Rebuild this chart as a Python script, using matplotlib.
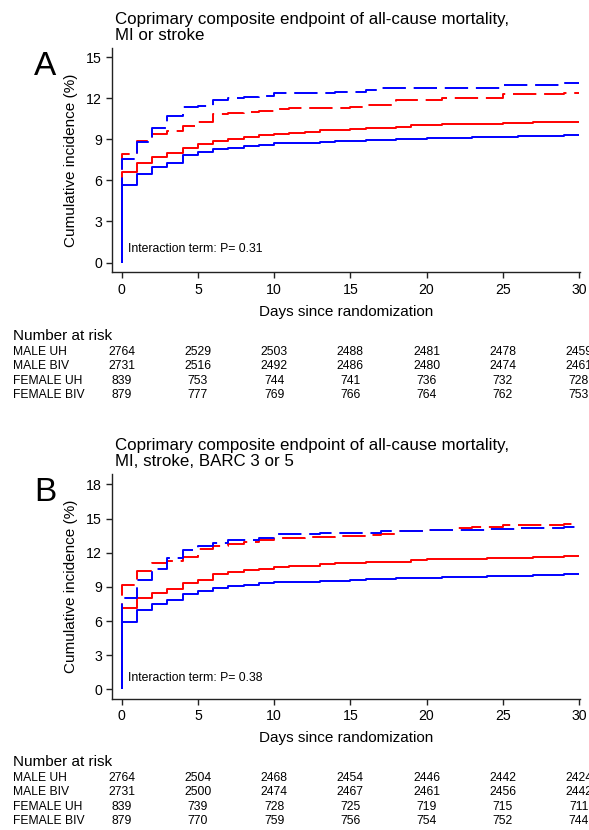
import matplotlib
matplotlib.use("Agg")
import matplotlib.pyplot as plt
from matplotlib.transforms import blended_transform_factory

plt.rcParams['font.family'] = ['Liberation Sans', 'DejaVu Sans']

W, H = 589, 830

days = list(range(31))

# Panel A: all-cause mortality, MI or stroke (cumulative incidence, %)
a_male_uh = [6.6, 7.3, 7.75, 8.0, 8.35, 8.65, 8.85, 9.02, 9.15, 9.3, 9.42, 9.5, 9.52,
             9.68, 9.72, 9.76, 9.8, 9.84, 9.88, 10.02, 10.05, 10.1, 10.12, 10.14,
             10.16, 10.2, 10.22, 10.25, 10.27, 10.3, 10.3]
a_male_biv = [5.7, 6.5, 7.0, 7.3, 7.85, 8.05, 8.3, 8.4, 8.5, 8.62, 8.72, 8.75, 8.77,
              8.8, 8.85, 8.9, 8.95, 8.98, 9.02, 9.05, 9.08, 9.1, 9.12, 9.14, 9.16,
              9.18, 9.22, 9.25, 9.28, 9.33, 9.33]
a_female_uh = [7.9, 8.85, 9.4, 9.6, 9.95, 10.3, 10.85, 10.9, 11.0, 11.1, 11.2, 11.3,
               11.32, 11.32, 11.32, 11.35, 11.48, 11.5, 11.85, 11.88, 11.88, 12.0,
               12.0, 12.02, 12.05, 12.3, 12.3, 12.32, 12.35, 12.37, 12.37]
a_female_biv = [7.55, 8.8, 9.8, 10.7, 11.35, 11.45, 11.85, 12.05, 12.1, 12.2, 12.37,
                12.37, 12.4, 12.42, 12.45, 12.45, 12.6, 12.73, 12.73, 12.73, 12.73,
                12.73, 12.75, 12.75, 12.75, 12.95, 12.95, 12.95, 12.97, 13.1, 13.1]

# Panel B: all-cause mortality, MI, stroke, BARC 3 or 5
b_male_uh = [7.15, 8.0, 8.5, 8.8, 9.3, 9.6, 10.1, 10.3, 10.45, 10.6, 10.75, 10.82,
             10.85, 11.05, 11.08, 11.12, 11.15, 11.18, 11.22, 11.4, 11.42, 11.44,
             11.46, 11.48, 11.5, 11.55, 11.58, 11.62, 11.66, 11.7, 11.7]
b_male_biv = [5.95, 6.95, 7.5, 7.85, 8.4, 8.65, 8.9, 9.08, 9.2, 9.3, 9.42, 9.45, 9.47,
              9.5, 9.55, 9.65, 9.68, 9.72, 9.75, 9.78, 9.82, 9.85, 9.88, 9.9, 9.92,
              9.96, 10.0, 10.02, 10.05, 10.1, 10.1]
b_female_uh = [9.2, 10.4, 11.1, 11.3, 11.65, 12.3, 12.6, 12.8, 12.95, 13.1, 13.25,
               13.3, 13.35, 13.4, 13.45, 13.5, 13.55, 13.6, 13.9, 13.92, 13.95, 14.0,
               14.2, 14.22, 14.25, 14.4, 14.42, 14.44, 14.46, 14.5, 14.5]
b_female_biv = [8.0, 9.6, 10.6, 11.55, 12.2, 12.6, 12.85, 13.15, 13.15, 13.3, 13.6,
                13.6, 13.62, 13.7, 13.72, 13.74, 13.76, 13.9, 13.92, 13.94, 13.96,
                13.98, 14.0, 14.02, 14.04, 14.12, 14.15, 14.18, 14.2, 14.28, 14.28]

risk_days = [0, 5, 10, 15, 20, 25, 30]
risk_groups = ["MALE UH", "MALE BIV", "FEMALE UH", "FEMALE BIV"]
a_risk_male_uh = [2764, 2529, 2503, 2488, 2481, 2478, 2459]
a_risk_male_biv = [2731, 2516, 2492, 2486, 2480, 2474, 2461]
a_risk_female_uh = [839, 753, 744, 741, 736, 732, 728]
a_risk_female_biv = [879, 777, 769, 766, 764, 762, 753]
b_risk_male_uh = [2764, 2504, 2468, 2454, 2446, 2442, 2424]
b_risk_male_biv = [2731, 2500, 2474, 2467, 2461, 2456, 2442]
b_risk_female_uh = [839, 739, 728, 725, 719, 715, 711]
b_risk_female_biv = [879, 770, 759, 756, 754, 752, 744]

a_title = ["Coprimary composite endpoint of all-cause mortality,", "MI or stroke"]
b_title = ["Coprimary composite endpoint of all-cause mortality,",
           "MI, stroke, BARC 3 or 5"]
a_yticks = [0, 3, 6, 9, 12, 15]
b_yticks = [0, 3, 6, 9, 12, 15, 18]
xticks = [0, 5, 10, 15, 20, 25, 30]
a_note = "Interaction term: P= 0.31"
b_note = "Interaction term: P= 0.38"

RED = "#ff0000"
BLUE = "#0000ff"
DASH = (0, (12, 4))

fig = plt.figure(figsize=(W / 100, H / 100), dpi=100)


def fy(px):
    """Figure fraction from a pixel row measured from the top."""
    return 1 - px / H


def fx(px):
    return px / W


def panel(top_px, ylim, yticks, letter, title, curves, note, risk):
    left, right, bottom = 112, 580, top_px + 224.2
    ax = fig.add_axes([fx(left), fy(bottom), fx(right - left), (bottom - top_px) / H])
    for vals, color, ls in curves:
        ax.plot([0] + days, [0] + vals, drawstyle="steps-post", color=color,
                lw=1.4, ls=ls, solid_capstyle="butt", dash_capstyle="butt")
    ax.set_xlim(-0.64, 30.07)
    ax.set_ylim(*ylim)
    ax.set_xticks(xticks)
    ax.set_yticks(yticks)
    ax.set_yticklabels([str(t) for t in yticks])
    for s in ("top", "right"):
        ax.spines[s].set_visible(False)
    for s in ("left", "bottom"):
        ax.spines[s].set_linewidth(1.0)
        ax.spines[s].set_color("#222222")
    ax.tick_params(length=4.3, width=1.0, color="#222222", labelsize=10.2, pad=3)
    ax.set_ylabel("Cumulative incidence (%)", fontsize=11)
    ax.yaxis.set_label_coords(-0.073, 0.5)
    ax.set_xlabel("Days since randomization", fontsize=11, va="baseline")
    ax.xaxis.set_label_coords(0.5, -(316.5 - 272.7) / 224.2)
    ax.text(0.42, 1.0, note, fontsize=8.8, va="center", ha="left")

    fig.text(fx(115), fy(top_px - 24.3), title[0], fontsize=12.2, va="baseline")
    fig.text(fx(115), fy(top_px - 8.3), title[1], fontsize=12.2, va="baseline")
    fig.text(fx(45), fy(top_px + 26.7), letter, fontsize=24, ha="center",
             va="baseline")

    # Number-at-risk table, columns aligned with the day axis
    base = top_px + 292.0
    tr = blended_transform_factory(ax.transData, fig.transFigure)
    fig.text(fx(12.7), fy(base), "Number at risk", fontsize=11, va="baseline")
    for i, (name, counts) in enumerate(zip(risk_groups, risk)):
        y = fy(base + 14.8 + 14.2 * i)
        fig.text(fx(12.7), y, name, fontsize=8.7, va="baseline")
        for d, n in zip(risk_days, counts):
            ax.text(d, y, str(n), transform=tr, fontsize=8.7, ha="center",
                    va="baseline", clip_on=False)
    return ax


panel(48.3, (-0.73, 15.66), a_yticks, "A", a_title,
      [(a_male_uh, RED, "-"), (a_female_uh, RED, DASH),
       (a_male_biv, BLUE, "-"), (a_female_biv, BLUE, DASH)],
      a_note,
      [a_risk_male_uh, a_risk_male_biv, a_risk_female_uh, a_risk_female_biv])

panel(474.3, (-0.79, 18.88), b_yticks, "B", b_title,
      [(b_male_uh, RED, "-"), (b_female_uh, RED, DASH),
       (b_male_biv, BLUE, "-"), (b_female_biv, BLUE, DASH)],
      b_note,
      [b_risk_male_uh, b_risk_male_biv, b_risk_female_uh, b_risk_female_biv])

fig.savefig("out.png", dpi=100)
